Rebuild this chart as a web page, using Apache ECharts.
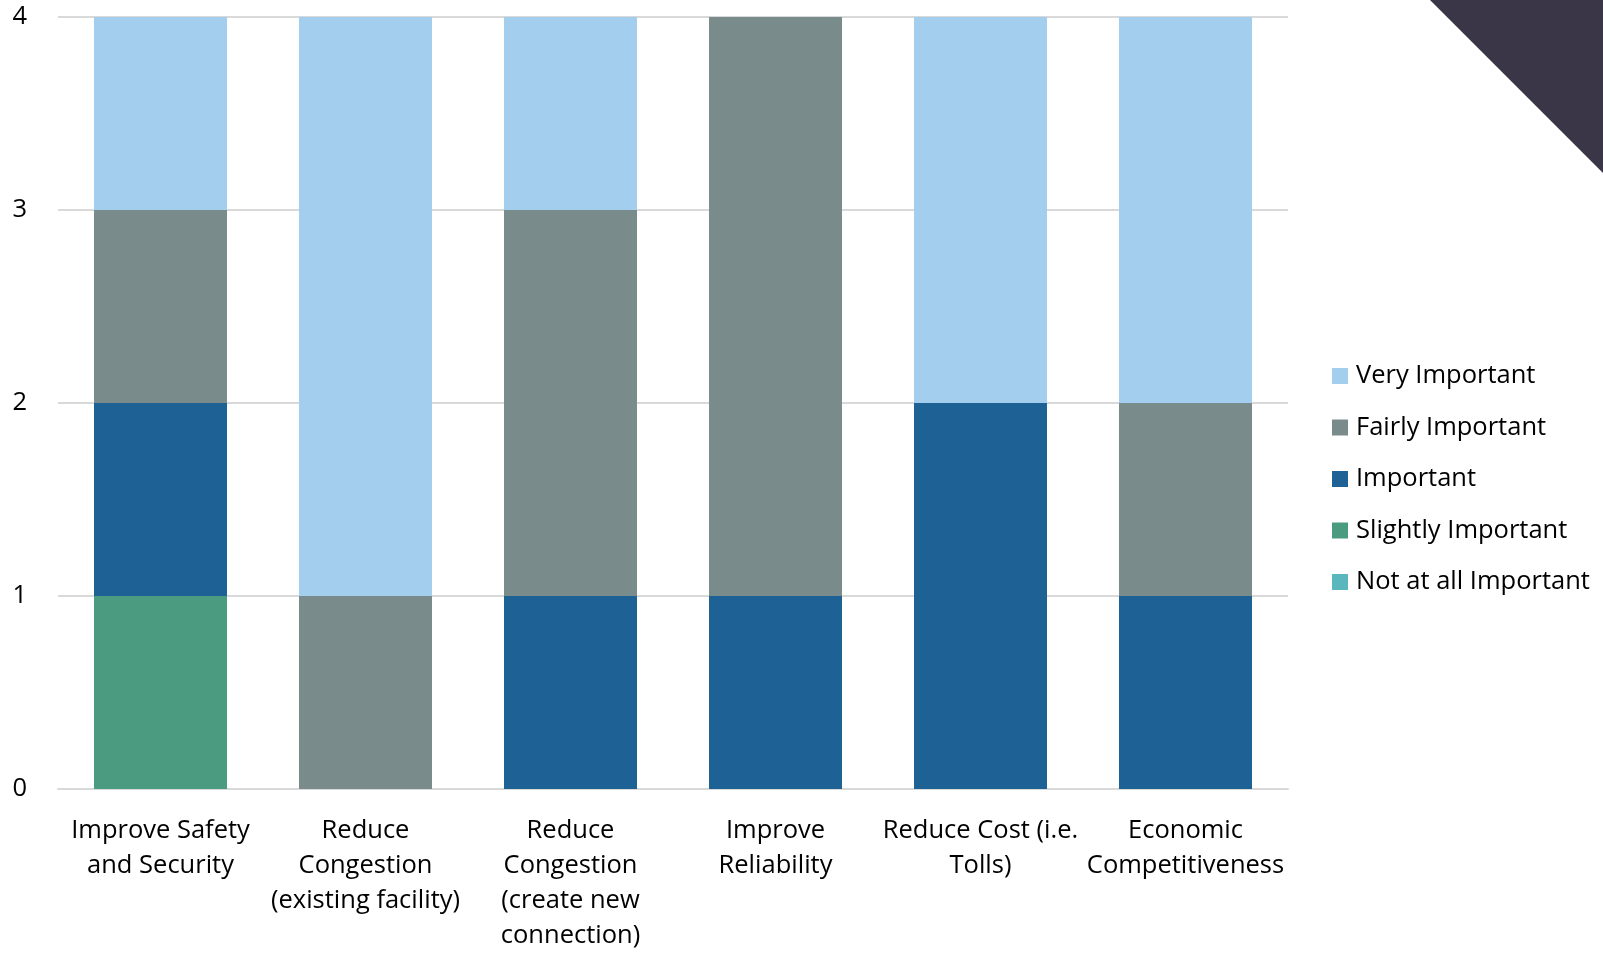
<!DOCTYPE html>
<html>
<head>
<meta charset="utf-8">
<script src="https://cdn.jsdelivr.net/npm/echarts@6/dist/echarts.min.js"></script>
<style>
html,body{margin:0;padding:0;background:#fff;}
#chart{width:1603px;height:953px;}
</style>
</head>
<body>
<div id="chart"></div>
<script>
const categories = [
  "Improve Safety\nand Security",
  "Reduce\nCongestion\n(existing facility)",
  "Reduce\nCongestion\n(create new\nconnection)",
  "Improve\nReliability",
  "Reduce Cost (i.e.\nTolls)",
  "Economic\nCompetitiveness"
];
const notAtAll   = [0, 0, 0, 0, 0, 0];
const slightly   = [1, 0, 0, 0, 0, 0];
const important  = [1, 0, 1, 1, 2, 1];
const fairly     = [1, 1, 2, 3, 0, 1];
const very       = [1, 3, 1, 0, 2, 2];
const yTicks = [0, 1, 2, 3, 4];

const FONT = "Open Sans";
const FS = 25.5;
const seriesDefs = [
  {name: "Not at all Important", data: notAtAll, color: "#5BB7BE"},
  {name: "Slightly Important", data: slightly, color: "#4A9B80"},
  {name: "Important", data: important, color: "#1D6195"},
  {name: "Fairly Important", data: fairly, color: "#7A8B8C"},
  {name: "Very Important", data: very, color: "#A4CEEE"}
];

const chart = echarts.init(document.getElementById('chart'), null, {renderer: 'canvas'});
chart.setOption({
  animation: false,
  backgroundColor: '#fff',
  textStyle: {fontFamily: FONT},
  grid: {left: 58, right: 315, top: 17, bottom: 159, containLabel: false},
  legend: {
    orient: 'vertical',
    left: 1332,
    top: 363,
    padding: 0,
    itemWidth: 16,
    itemHeight: 16,
    itemGap: 25.5,
    icon: 'rect',
    data: ["Very Important", "Fairly Important", "Important", "Slightly Important", "Not at all Important"],
    textStyle: {fontFamily: FONT, fontSize: FS, lineHeight: 26, color: '#000', padding: [0,0,0,3]}
  },
  xAxis: {
    type: 'category',
    data: categories,
    axisTick: {show: false},
    axisLine: {lineStyle: {color: '#D9D9D9', width: 2}},
    axisLabel: {fontFamily: FONT, fontSize: FS, color: '#000', lineHeight: 35, margin: 24, interval: 0}
  },
  yAxis: {
    type: 'value',
    min: 0, max: 4, interval: 1,
    axisLine: {show: false},
    axisTick: {show: false},
    splitLine: {lineStyle: {color: '#D9D9D9', width: 2}},
    axisLabel: {fontFamily: FONT, fontSize: FS, color: '#000', margin: 31,
      formatter: v => yTicks.includes(v) ? String(v) : ''}
  },
  series: seriesDefs.map(s => ({
    name: s.name,
    type: 'bar',
    stack: 'total',
    data: s.data,
    barWidth: 133,
    itemStyle: {color: s.color},
    emphasis: {disabled: true}
  })),
  graphic: [{
    type: 'polygon',
    z: 100,
    shape: {points: [[1430, 0], [1603, 0], [1603, 173]]},
    style: {fill: '#3A3647'}
  }]
});
</script>
</body>
</html>
